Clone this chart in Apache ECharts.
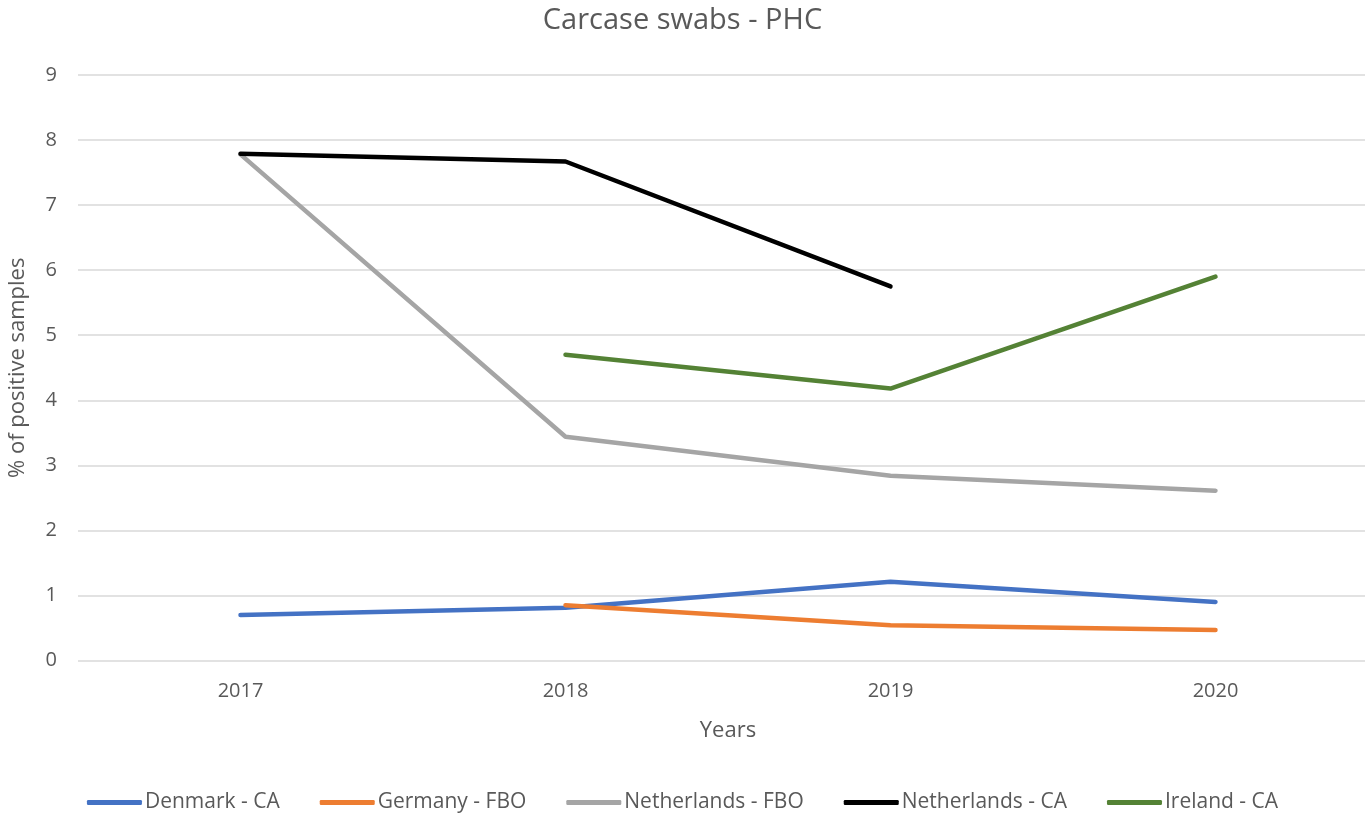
<!DOCTYPE html>
<html>
<head>
<meta charset="utf-8">
<script src="https://cdn.jsdelivr.net/npm/echarts@6/dist/echarts.min.js"></script>
<style>
  html, body { margin: 0; padding: 0; background: #fff; }
  #chart { width: 1365px; height: 813px; }
</style>
</head>
<body>
<div id="chart"></div>
<script>
// Years on the category axis
const years = ['2017', '2018', '2019', '2020'];

// % of positive samples per series (null = no data that year)
const denmarkCA = [0.70, 0.81, 1.21, 0.90];
const germanyFBO = [null, 0.85, 0.54, 0.47];
const netherlandsFBO = [7.78, 3.44, 2.84, 2.61];
const netherlandsCA = [7.79, 7.67, 5.75, null];
const irelandCA = [null, 4.70, 4.18, 5.90];

const yTicks = { min: 0, max: 9, interval: 1 };

const textColor = '#595959';
const fontFamily = 'Open Sans, Noto Sans, sans-serif';

function lineSeries(name, data, color) {
  return {
    name: name,
    type: 'line',
    data: data,
    showSymbol: false,
    symbol: 'none',
    connectNulls: false,
    lineStyle: { width: 4.5, color: color, cap: 'round', join: 'round' },
    itemStyle: { color: color }
  };
}

const chart = echarts.init(document.getElementById('chart'), null, { renderer: 'canvas' });
chart.setOption({
  animation: false,
  backgroundColor: '#ffffff',
  textStyle: { fontFamily: fontFamily },
  title: {
    text: 'Carcase swabs - PHC',
    left: 'center',
    top: 1,
    textStyle: { fontFamily: fontFamily, fontSize: 29, fontWeight: 'normal', color: textColor }
  },
  // plot area runs past the right edge of the page
  grid: { left: 78, top: 75, width: 1300, height: 585.5, containLabel: false, outerBoundsMode: 'none' },
  xAxis: {
    type: 'category',
    data: years,
    boundaryGap: true,
    name: 'Years',
    nameLocation: 'middle',
    nameGap: 59,
    nameTextStyle: { fontFamily: fontFamily, fontSize: 22, color: textColor },
    axisLine: { show: false },
    axisTick: { show: false },
    axisLabel: { fontFamily: fontFamily, fontSize: 20, color: textColor, margin: 21 }
  },
  yAxis: {
    type: 'value',
    min: yTicks.min,
    max: yTicks.max,
    interval: yTicks.interval,
    name: '% of positive samples',
    nameLocation: 'middle',
    nameGap: 49,
    nameTextStyle: { fontFamily: fontFamily, fontSize: 22, color: textColor },
    axisLine: { show: false },
    axisTick: { show: false },
    axisLabel: { fontFamily: fontFamily, fontSize: 20, color: textColor, margin: 21 },
    splitLine: { lineStyle: { color: '#D9D9D9', width: 1.5 } }
  },
  legend: {
    top: 792,
    left: 'center',
    padding: 0,
    itemWidth: 55,
    itemHeight: 5,
    itemGap: 40,
    icon: 'roundRect',
    textStyle: { fontFamily: fontFamily, fontSize: 21, color: textColor, padding: [0, 0, 0, -2] },
    data: ['Denmark - CA', 'Germany - FBO', 'Netherlands - FBO', 'Netherlands - CA', 'Ireland - CA']
  },
  series: [
    lineSeries('Denmark - CA', denmarkCA, '#4472C4'),
    lineSeries('Germany - FBO', germanyFBO, '#ED7D31'),
    lineSeries('Netherlands - FBO', netherlandsFBO, '#A5A5A5'),
    lineSeries('Netherlands - CA', netherlandsCA, '#000000'),
    lineSeries('Ireland - CA', irelandCA, '#548235')
  ]
});
</script>
</body>
</html>
